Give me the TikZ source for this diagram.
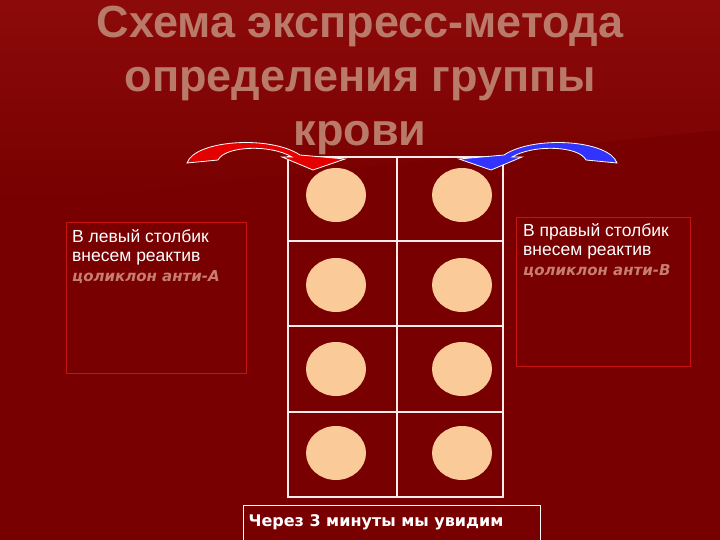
\documentclass[tikz,border=0pt]{standalone}
\usepackage{fontspec}
\setmainfont{DejaVu Sans}
\newfontfamily\boxfont{Liberation Sans}
\definecolor{bgdark}{HTML}{780000}
\definecolor{bglight}{HTML}{8C0A0A}
\definecolor{titlec}{HTML}{B97A6A}
\definecolor{dish}{HTML}{FACB98}
\definecolor{boxred}{HTML}{C41414}
\definecolor{reag}{HTML}{C77E70}
\tikzset{x=1pt,y=-1pt,
  gridline/.style={draw=white!92!red,line width=1.4pt},
  well/.style={ellipse,fill=dish,minimum width=60pt,minimum height=54pt,inner sep=0pt},
  infobox/.style={draw=boxred,line width=0.8pt,anchor=north west,align=left,inner sep=0pt},
  boxtext/.style={anchor=north west,align=left,text=white,font=\boxfont\fontsize{17.5}{19.5}\selectfont,inner sep=0pt},
  arrowshape/.style={draw=white,line width=0.8pt}}
\usetikzlibrary{shapes.geometric}
\begin{document}
\begin{tikzpicture}
\useasboundingbox (0,0) rectangle (720,540);
\fill[bgdark] (0,0) rectangle (720,540);
\shade[top color=bglight,bottom color=bgdark] (0,0) -- (720,0) -- (720,130) -- (0,205) -- cycle;
% title
\node[text=titlec,font=\boxfont\bfseries\fontsize{45}{54}\selectfont,align=center] (title) at (360,80)
 {Схема экспресс-метода\\определения группы\\крови};
% grid
\draw[gridline] (288,157) rectangle (503,497);
\coordinate (gt) at (397,157); \coordinate (gb) at (397,497);
\draw[gridline] (gt) -- (gb);
\foreach \yy in {241,326,412} \draw[gridline] (288,\yy) -- (503,\yy);
\foreach \yy [count=\i] in {195,285,369,453} {
  \node[well] (l\i) at (336,\yy) {};
  \node[well] (r\i) at (462,\yy) {};
}
% arrows
\filldraw[arrowshape,fill=red!90!black] (187,163) .. controls (195,140) and (270,135) .. (300,155)
  -- (345,159) -- (313,170) -- (282,157) -- (292,157)
  .. controls (270,144) and (225,146) .. (218,160) -- cycle;
\filldraw[arrowshape,fill=blue!80!white] (617,163) .. controls (609,140) and (534,135) .. (504,155)
  -- (459,159) -- (491,170) -- (522,157) -- (512,157)
  .. controls (534,144) and (579,146) .. (586,160) -- cycle;
% boxes
\node[infobox,minimum width=180pt,minimum height=151pt] (lb) at (66,222) {};
\node[boxtext] (lt) at (72,229)
 {В левый столбик\\внесем реактив\\{\color{reag}\fontsize{15}{19.5}\selectfont\itshape\bfseries\rmfamily цоликлон анти-А}};
\node[infobox,minimum width=174pt,minimum height=149pt] (rb) at (516,217) {};
\node[boxtext] (rt) at (523,223)
 {В правый столбик\\внесем реактив\\{\color{reag}\fontsize{15}{19.5}\selectfont\itshape\bfseries\rmfamily цоликлон анти-В}};
\draw[white,line width=0.8pt] (243,545) -- (243,505) -- (540,505) -- (540,545);
\node[text=white,font=\bfseries\fontsize{16}{19}\selectfont] (bt) at (376,522) {Через 3 минуты мы увидим};
\end{tikzpicture}
\end{document}
